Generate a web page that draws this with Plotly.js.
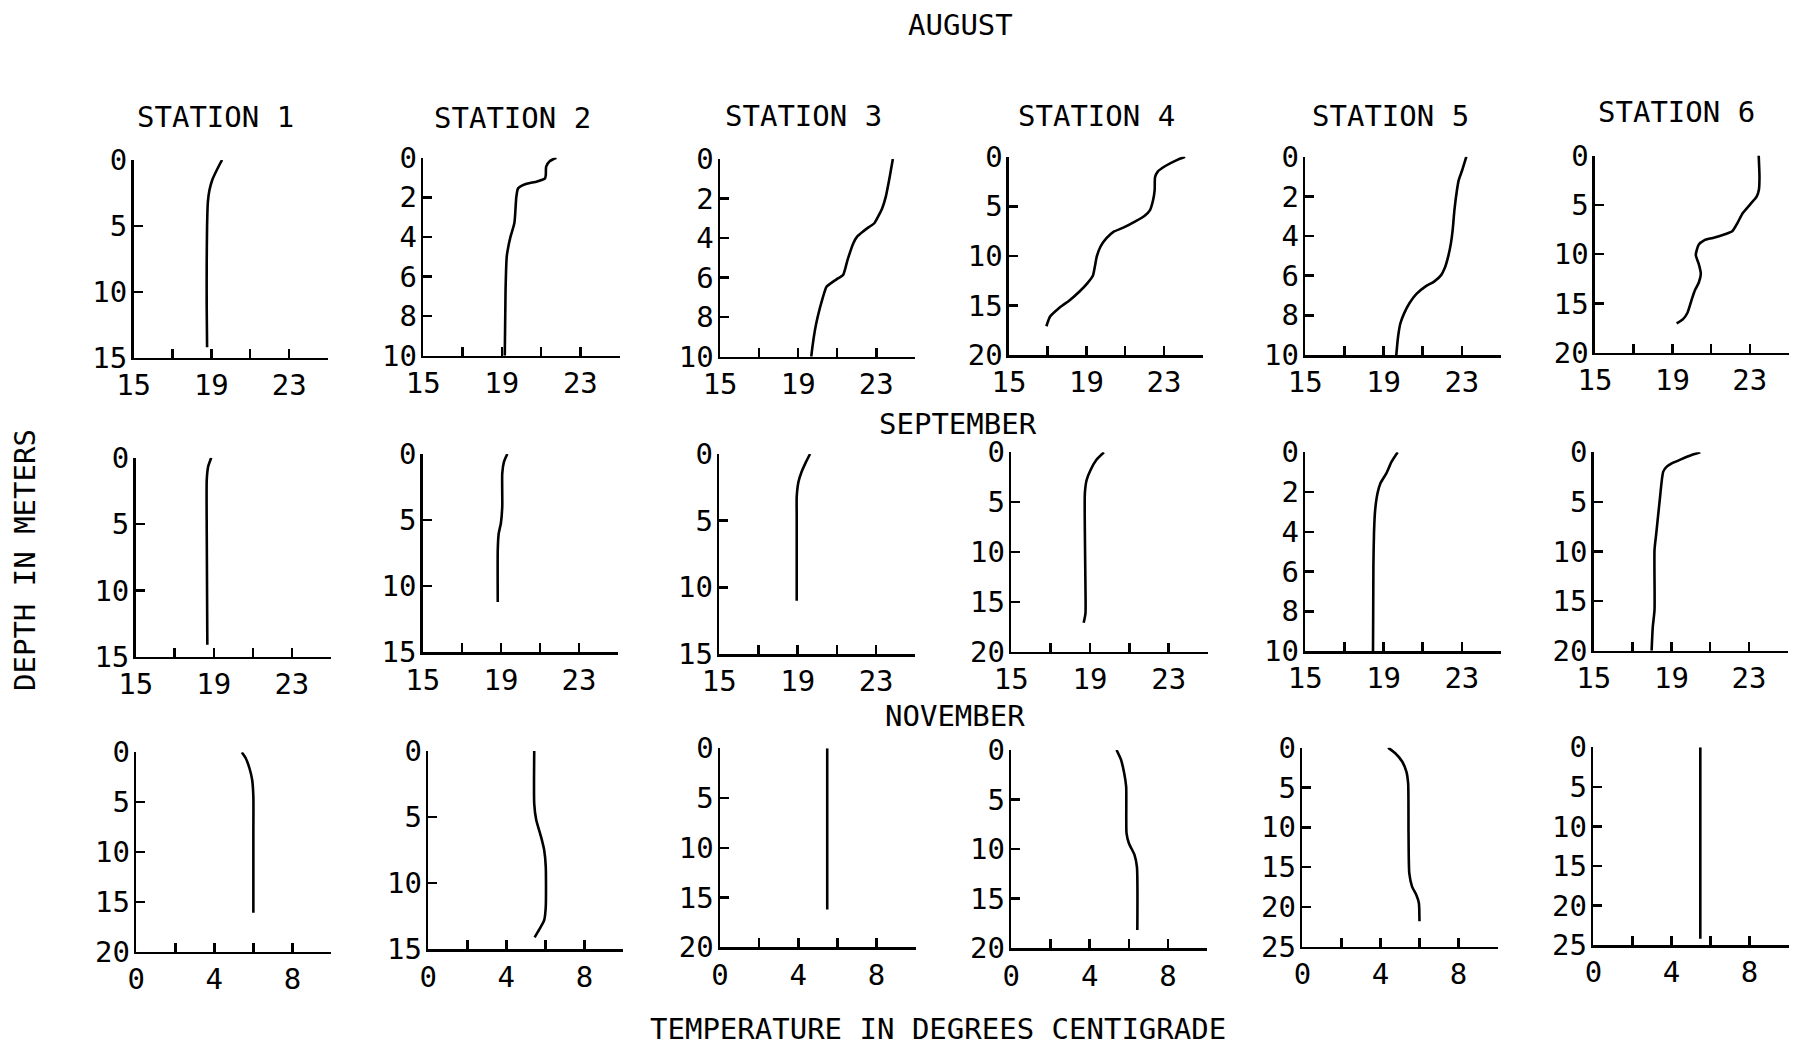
<!DOCTYPE html>
<html>
<head>
<meta charset="utf-8">
<script src="https://cdn.plot.ly/plotly-3.0.1.min.js"></script>
<style>html,body{margin:0;padding:0;background:#fff;}#chart{width:1793px;height:1049px;}</style>
</head>
<body>
<div id="chart"></div>
<script>
// ---------- DATA ----------
const months = ['AUGUST', 'SEPTEMBER', 'NOVEMBER'];
const stations = ['STATION 1', 'STATION 2', 'STATION 3', 'STATION 4', 'STATION 5', 'STATION 6'];

const warmTickVals = [15, 19, 23];
const warmTickText = ['15', '19', '23'];
const coldTickVals = [0, 4, 8];
const coldTickText = ['0', '4', '8'];

const augDepthMax = [15, 10, 10, 20, 10, 20];
const augDepthStep = [5, 2, 2, 5, 2, 5];
const sepDepthMax = [15, 15, 15, 20, 10, 20];
const sepDepthStep = [5, 5, 5, 5, 2, 5];
const novDepthMax = [20, 15, 20, 20, 25, 25];
const novDepthStep = [5, 5, 5, 5, 5, 5];

// August (temperature degC, depth m)
const aug1T = [19.55, 19.3, 19.05, 18.9, 18.82, 18.78, 18.76, 18.76, 18.78];
const aug1D = [0, 0.7, 1.5, 2.3, 3.2, 5, 8, 11, 14.2];
const aug2T = [21.78, 21.45, 21.26, 21.24, 21.2, 20.8, 20.22, 19.83, 19.74, 19.64, 19.44, 19.3, 19.25, 19.19, 19.15];
const aug2D = [0, 0.17, 0.45, 0.88, 1.04, 1.2, 1.33, 1.55, 1.97, 3.3, 4.0, 4.66, 5.0, 6.7, 10];
const aug3T = [23.85, 23.69, 23.49, 23.3, 23.1, 22.9, 22.6, 22.31, 22.02, 21.82, 21.53, 21.3, 21.04, 20.65, 20.45, 20.25, 20.0, 19.86, 19.73, 19.67];
const aug3D = [0, 0.9, 1.9, 2.5, 2.9, 3.25, 3.46, 3.68, 3.93, 4.27, 5.1, 5.87, 6.04, 6.3, 6.46, 7.05, 7.98, 8.65, 9.5, 10];
const aug4T = [24.09, 23.66, 23.07, 22.68, 22.54, 22.52, 22.44, 22.28, 21.99, 21.5, 20.9, 20.41, 20.02, 19.72, 19.53, 19.43, 19.33, 19.04, 18.64, 18.15, 17.56, 17.13, 16.93];
const aug4D = [0, 0.34, 0.94, 1.5, 2.08, 3.36, 4.37, 5.38, 5.98, 6.55, 7.16, 7.56, 8.24, 9.08, 10.08, 11.1, 12.0, 12.77, 13.6, 14.45, 15.3, 16.1, 17.1];
const aug5T = [23.23, 23.02, 22.84, 22.75, 22.62, 22.53, 22.44, 22.3, 22.12, 21.94, 21.58, 21.13, 20.68, 20.32, 20.05, 19.86, 19.74, 19.65];
const aug5D = [0, 0.67, 1.18, 1.68, 2.69, 3.7, 4.37, 5.04, 5.63, 5.97, 6.3, 6.55, 6.92, 7.39, 7.9, 8.4, 9.08, 10];
const aug6T = [23.46, 23.5, 23.47, 23.36, 23.0, 22.64, 22.36, 22.09, 21.64, 21.09, 20.64, 20.36, 20.21, 20.36, 20.47, 20.36, 20.18, 20.0, 19.78, 19.55, 19.22];
const aug6D = [0, 2.2, 3.47, 4.15, 5.0, 5.83, 6.85, 7.69, 8.03, 8.36, 8.6, 9.04, 10.1, 11.0, 12.0, 12.9, 13.6, 14.6, 15.95, 16.6, 17.03];

// September
const sep1T = [18.87, 18.71, 18.64, 18.64, 18.67];
const sep1D = [0, 0.68, 1.68, 5.7, 14.1];
const sep2T = [19.33, 19.16, 19.07, 19.07, 19.0, 18.89, 18.84, 18.84];
const sep2D = [0, 0.58, 1.46, 3.98, 5.24, 6.0, 7.25, 11.2];
const sep3T = [19.63, 19.39, 19.2, 19.04, 18.95, 18.95, 18.95];
const sep3D = [0, 0.7, 1.33, 2.08, 3.2, 4.7, 11.0];
const sep4T = [19.71, 19.32, 19.03, 18.83, 18.74, 18.74, 18.77, 18.77, 18.68];
const sep4D = [0, 0.77, 1.77, 2.78, 4.1, 8.1, 13.5, 16.15, 17.1];
const sep5T = [19.72, 19.41, 19.14, 18.84, 18.69, 18.57, 18.51, 18.48, 18.46];
const sep5D = [0, 0.47, 1.06, 1.56, 2.06, 2.9, 4.08, 5.75, 10];
const sep6T = [20.49, 20.04, 19.49, 19.04, 18.76, 18.58, 18.4, 18.22, 18.13, 18.13, 18.04, 17.98];
const sep6D = [0, 0.27, 0.71, 1.1, 1.45, 1.95, 4.8, 8.17, 9.85, 15.9, 17.6, 20];

// November
const nov1T = [5.41, 5.61, 5.8, 5.94, 6.0, 6.0, 6.0];
const nov1D = [0, 0.6, 1.6, 2.78, 4.45, 8.1, 16.1];
const nov2T = [5.43, 5.43, 5.53, 5.78, 5.94, 6.02, 6.02, 5.94, 5.69, 5.45];
const nov2D = [0, 4.0, 5.2, 6.5, 7.5, 8.75, 11.8, 12.8, 13.5, 14.1];
const nov3T = [5.48, 5.48];
const nov3D = [0, 16.2];
const nov4T = [5.37, 5.6, 5.76, 5.86, 5.88, 6.0, 6.29, 6.41, 6.43];
const nov4D = [0, 1.0, 2.35, 3.7, 8.4, 9.4, 10.6, 11.8, 18.15];
const nov5T = [4.39, 4.76, 5.12, 5.33, 5.42, 5.44, 5.48, 5.62, 5.84, 5.97, 6.0];
const nov5D = [0, 0.7, 1.76, 3.0, 4.5, 10.75, 15.8, 17.45, 18.5, 19.5, 21.8];
const nov6T = [5.48, 5.48];
const nov6D = [0, 24.2];

// ---------- LAYOUT GEOMETRY (pixels: left, right, top, bottom) ----------
const W = 1793, H = 1049;
const boxes = [
  [[133.6, 328.0, 160, 357.7], [423.3, 619.6, 157.7, 355.7], [720.1, 915.3, 159, 356.7],
   [1009, 1202.7, 156.7, 355], [1305.3, 1501, 156.7, 355], [1595, 1788.5, 155.5, 352.7]],
  [[135.7, 330.9, 457.7, 656.7], [422.8, 618, 454, 652.3], [719.3, 915.3, 454, 654],
   [1011.3, 1208, 452.3, 651.7], [1305.3, 1501, 452.3, 651], [1593.8, 1787.8, 452.3, 650.7]],
  [[136.3, 331.4, 752.3, 951.7], [428.3, 623.4, 751, 949.3], [720.1, 915.6, 748.3, 947.3],
   [1011.3, 1207.3, 750, 948.3], [1302.4, 1497.5, 747.7, 946.7], [1593.4, 1788.5, 747.3, 945]]
];
const stationTitlePos = [[215.5, 117], [512, 118], [803, 115.5], [1096, 115.5], [1390.5, 115.5], [1676, 112]];
const monthTitlePos = [[960.6, 25], [958, 424], [955.4, 716]];

const seriesT = [
  [aug1T, aug2T, aug3T, aug4T, aug5T, aug6T],
  [sep1T, sep2T, sep3T, sep4T, sep5T, sep6T],
  [nov1T, nov2T, nov3T, nov4T, nov5T, nov6T]
];
const seriesD = [
  [aug1D, aug2D, aug3D, aug4D, aug5D, aug6D],
  [sep1D, sep2D, sep3D, sep4D, sep5D, sep6D],
  [nov1D, nov2D, nov3D, nov4D, nov5D, nov6D]
];
const depthMax = [augDepthMax, sepDepthMax, novDepthMax];
const depthStep = [augDepthStep, sepDepthStep, novDepthStep];

const FONT = 'DejaVu Sans Mono, Liberation Mono, monospace';
const FS = 29;

const traces = [];
const layout = {
  width: W, height: H,
  margin: {l: 0, r: 0, t: 0, b: 0, pad: 0},
  paper_bgcolor: '#ffffff', plot_bgcolor: '#ffffff',
  showlegend: false,
  font: {family: FONT, size: FS, color: '#000'},
  annotations: []
};

for (let r = 0; r < 3; r++) {
  for (let c = 0; c < 6; c++) {
    const k = r * 6 + c;
    const sfx = k === 0 ? '' : String(k + 1);
    const b = boxes[r][c];
    const warm = r < 2;
    traces.push({
      type: 'scatter', mode: 'lines',
      x: seriesT[r][c], y: seriesD[r][c],
      xaxis: 'x' + sfx, yaxis: 'y' + sfx,
      line: {color: '#000', width: 2.6, shape: 'spline', smoothing: 0.6},
      hoverinfo: 'x+y'
    });
    const yt = [];
    for (let v = 0; v <= depthMax[r][c] + 1e-9; v += depthStep[r][c]) yt.push(v);
    layout['xaxis' + sfx] = {
      domain: [b[0] / W, b[1] / W],
      anchor: 'y' + sfx,
      range: warm ? [15, 25] : [0, 10],
      tickmode: 'array',
      tickvals: warm ? warmTickVals : coldTickVals,
      ticktext: warm ? warmTickText : coldTickText,
      ticks: 'inside', ticklen: 9, tickwidth: 2.5, tickcolor: '#000',
      minor: {
        tickmode: 'linear', tick0: warm ? 15 : 0, dtick: 2,
        ticks: 'inside', ticklen: 9, tickwidth: 2.5, tickcolor: '#000', showgrid: false
      },
      showline: true, linecolor: '#000', linewidth: 2.6,
      showgrid: false, zeroline: false,
      tickfont: {family: FONT, size: FS, color: '#000'},
      ticklabelstandoff: 0,
      fixedrange: true
    };
    layout['yaxis' + sfx] = {
      domain: [1 - b[3] / H, 1 - b[2] / H],
      anchor: 'x' + sfx,
      range: [depthMax[r][c], 0],
      tickmode: 'array',
      tickvals: yt,
      ticktext: yt.map(String),
      ticks: 'inside', ticklen: 9, tickwidth: 2.5, tickcolor: '#000',
      showline: true, linecolor: '#000', linewidth: 2.6,
      showgrid: false, zeroline: false,
      tickfont: {family: FONT, size: FS, color: '#000'},
      ticklabelstandoff: -2,
      fixedrange: true
    };
  }
}

function ann(text, px, py, angle) {
  return {
    text: text, xref: 'paper', yref: 'paper',
    x: px / W, y: 1 - py / H, xanchor: 'center', yanchor: 'middle',
    showarrow: false, textangle: angle || 0,
    font: {family: FONT, size: FS, color: '#000'}
  };
}
for (let c = 0; c < 6; c++) {
  layout.annotations.push(ann(stations[c], stationTitlePos[c][0], stationTitlePos[c][1]));
}
for (let m = 0; m < 3; m++) {
  layout.annotations.push(ann(months[m], monthTitlePos[m][0], monthTitlePos[m][1]));
}
layout.annotations.push(ann('TEMPERATURE IN DEGREES CENTIGRADE', 937.7, 1029));
layout.annotations.push(ann('DEPTH IN METERS', 25, 560, -90));

Plotly.newPlot('chart', traces, layout, {displayModeBar: false, staticPlot: true});
</script>
</body>
</html>
